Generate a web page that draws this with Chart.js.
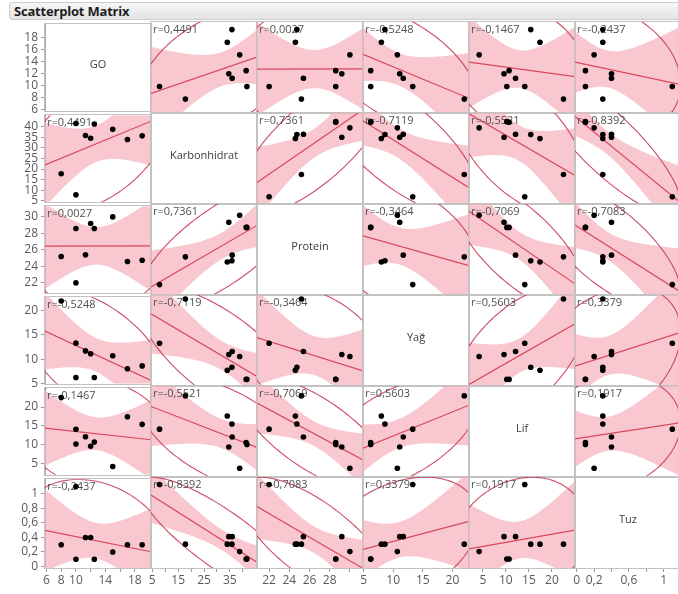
<!DOCTYPE html>
<html>
<head>
<meta charset="utf-8">
<title>Scatterplot Matrix</title>
<script src="https://cdn.jsdelivr.net/npm/chart.js@4"></script>
<style>
  body { margin: 0; background: #fff; font-family: "Open Sans", "Noto Sans", sans-serif; }
  #wrap { position: relative; width: 678px; height: 594px; overflow: hidden; }
  #bar {
    position: absolute; left: 9px; top: 2px; width: 680px; height: 18px;
    box-sizing: border-box; border: 1px solid #cdcdcd; border-radius: 3px 0 0 3px;
    background: linear-gradient(#f7f7f7, #e3e3e3);
  }
  #bar span {
    position: absolute; left: 4px; top: -1px;
    font-weight: bold; font-size: 13px; color: #1e1e1e; letter-spacing: -0.2px;
  }
  canvas { position: absolute; }
</style>
</head>
<body>
<div id="wrap">
  <div id="bar"><span>Scatterplot Matrix</span></div>
</div>
<script>
// variables, one value per sample
const varNames = ['GO', 'Karbonhidrat', 'Protein', 'Yağ', 'Lif', 'Tuz'];
const go           = [10,   8,    10,   11.3, 12,   12.5, 15,   17,   19];
const karbonhidrat = [7.8,  17.8, 41.6, 35.9, 34.6, 41.3, 38.8, 34.0, 35.8];
const protein      = [22.0, 25.2, 28.6, 25.4, 29.2, 28.6, 30.0, 24.6, 24.75];
const yag          = [13.3, 22.0, 6.2,  11.7, 11.1, 6.2,  10.7, 8.0,  8.6];
const lif          = [14.1, 22.5, 10.2, 12.1, 9.6,  10.7, 4.2,  17.4, 15.4];
const tuz          = [1.1,  0.3,  0.1,  0.4,  0.4,  0.1,  0.2,  0.3,  0.3];
const columns = [go, karbonhidrat, protein, yag, lif, tuz];

// pairwise r shown in each cell
const correlations = [
  [1,       0.4491,  0.0027, -0.5248, -0.1467, -0.2437],
  [0.4491,  1,       0.7361, -0.7119, -0.5521, -0.8392],
  [0.0027,  0.7361,  1,      -0.3464, -0.7069, -0.7083],
  [-0.5248, -0.7119, -0.3464, 1,       0.5603,  0.3379],
  [-0.1467, -0.5521, -0.7069, 0.5603,  1,       0.1917],
  [-0.2437, -0.8392, -0.7083, 0.3379,  0.1917,  1]
];

// axis ranges and ticks per variable
const axisRanges = [[5.8, 20.2], [4.5, 45.5], [20.8, 31.3], [4.9, 22.8], [2, 25], [-0.02, 1.2]];
const tickValues = [
  [6, 8, 10, 12, 14, 16, 18],
  [5, 10, 15, 20, 25, 30, 35, 40],
  [22, 24, 26, 28, 30],
  [5, 10, 15, 20],
  [5, 10, 15, 20],
  [0, 0.2, 0.4, 0.6, 0.8, 1]
];
const xTickLabels = [
  [6, 8, 10, 14, 18],
  [5, 15, 25, 35],
  [22, 24, 26, 28],
  [5, 10, 15, 20],
  [5, 10, 15, 20],
  [0, 0.2, 0.6, 1]
];

const GRID_X = 45, GRID_Y = 22, CELL_W = 106, CELL_H = 91;
const AXIS_W = 45, AXIS_H = 26, PAD = 8;
const N = go.length;
const T_975 = 2.3646;       // t quantile, 7 df
const ELLIPSE_K = 2.8;      // density ellipse radius in sd units
const BAND_PINK = 'rgba(247, 178, 188, 0.72)';
const LINE_RED = '#d9475c';
const ELLIPSE_RED = 'rgba(198, 58, 84, 0.9)';

function fmt(v) { return String(v).replace('.', ','); }
function mean(a) { return a.reduce((s, v) => s + v, 0) / a.length; }
function sd(a) {
  const m = mean(a);
  return Math.sqrt(a.reduce((s, v) => s + (v - m) * (v - m), 0) / (a.length - 1));
}

// fit line, shaded confidence band and density ellipse for y on x
function fitData(xs, ys, r, xr) {
  const mx = mean(xs), my = mean(ys), sx = sd(xs), sy = sd(ys);
  const b = r * sy / sx, a = my - b * mx;
  const se = sy * Math.sqrt((1 - r * r) * (N - 1) / (N - 2));
  const sxx = (N - 1) * sx * sx;
  const line = [{ x: xr[0], y: a + b * xr[0] }, { x: xr[1], y: a + b * xr[1] }];
  const lo = [], hi = [];
  for (let s = 0; s <= 60; s++) {
    const x = xr[0] + (xr[1] - xr[0]) * s / 60;
    const h = T_975 * se * Math.sqrt(1 / N + (x - mx) * (x - mx) / sxx);
    lo.push({ x: x, y: a + b * x - h });
    hi.push({ x: x, y: a + b * x + h });
  }
  const ell = [];
  const q = Math.sqrt(1 - r * r);
  for (let s = 0; s <= 144; s++) {
    const t = 2 * Math.PI * s / 144;
    ell.push({
      x: mx + ELLIPSE_K * sx * Math.cos(t),
      y: my + ELLIPSE_K * sy * (r * Math.cos(t) + q * Math.sin(t))
    });
  }
  return { line: line, lo: lo, hi: hi, ell: ell };
}

const cellPlugin = {
  id: 'cellDecor',
  afterDatasetDraw(chart, args, opts) {
    // r label sits under the points
    if (opts.diag || args.index !== 1) return;
    const ca = chart.chartArea, ctx = chart.ctx;
    ctx.save();
    ctx.font = '11px "Open Sans", "Noto Sans", sans-serif';
    ctx.fillStyle = '#505050';
    ctx.textBaseline = 'top';
    ctx.fillText('r=' + opts.r.toFixed(4).replace('.', ','), ca.left + 2, ca.top + 2);
    ctx.restore();
  },
  afterDraw(chart, args, opts) {
    const ca = chart.chartArea, ctx = chart.ctx;
    ctx.save();
    if (opts.diag) {
      ctx.font = '11px "Open Sans", "Noto Sans", sans-serif';
      ctx.fillStyle = '#3c3c3c';
      ctx.textAlign = 'center';
      ctx.textBaseline = 'middle';
      ctx.fillText(opts.name, (ca.left + ca.right) / 2, (ca.top + ca.bottom) / 2 - 3);
    }
    ctx.strokeStyle = '#c2c2c2';
    ctx.lineWidth = 1;
    ctx.strokeRect(Math.round(ca.left) - 0.5, Math.round(ca.top) - 0.5,
      Math.round(ca.right - ca.left) + 1, Math.round(ca.bottom - ca.top) + 1);
    ctx.restore();
  }
};

function axisOptions(v, show, isX) {
  const opts = {
    type: 'linear',
    min: axisRanges[v][0],
    max: axisRanges[v][1],
    display: show,
    afterBuildTicks: function (s) { s.ticks = tickValues[v].map(t => ({ value: t })); },
    ticks: {
      autoSkip: false,
      maxRotation: 0,
      padding: isX ? 1 : 3,
      color: '#5a5a5a',
      font: { size: 12, family: '"Open Sans", "Noto Sans", sans-serif' },
      callback: function (val) {
        if (isX && !xTickLabels[v].includes(val)) return '';
        return fmt(val);
      }
    },
    grid: { drawOnChartArea: false, tickLength: 4, color: '#9a9a9a' },
    border: { color: '#a8a8a8' }
  };
  if (show) {
    opts.afterFit = function (s) { if (isX) s.height = AXIS_H; else s.width = AXIS_W; };
  }
  return opts;
}

const wrap = document.getElementById('wrap');

for (let i = 0; i < 6; i++) {
  for (let j = 0; j < 6; j++) {
    const hasY = j === 0, hasX = i === 5;
    const axW = hasY ? AXIS_W : 0, axH = hasX ? AXIS_H : 0;
    const canvas = document.createElement('canvas');
    canvas.width = CELL_W + 2 * PAD + axW;
    canvas.height = CELL_H + 2 * PAD + axH;
    canvas.style.left = (GRID_X + j * CELL_W - PAD - axW) + 'px';
    canvas.style.top = (GRID_Y + i * CELL_H - PAD) + 'px';
    wrap.appendChild(canvas);

    const diag = i === j;
    let datasets = [];
    if (!diag) {
      const xs = columns[j], ys = columns[i];
      const r = correlations[i][j];
      const f = fitData(xs, ys, r, axisRanges[j]);
      datasets = [
        { data: xs.map((x, k) => ({ x: x, y: ys[k] })), showLine: false,
          pointRadius: 2.8, pointBackgroundColor: '#000', pointBorderWidth: 0, order: 0 },
        { data: f.line, showLine: true, borderColor: LINE_RED, borderWidth: 1.2,
          pointRadius: 0, order: 1, clip: 0 },
        { data: f.ell, showLine: true, borderColor: ELLIPSE_RED, borderWidth: 1.1,
          pointRadius: 0, order: 2, clip: 0 },
        { data: f.lo, showLine: true, borderColor: 'rgba(0,0,0,0)', borderWidth: 1,
          pointRadius: 0, order: 3, clip: 0 },
        { data: f.hi, showLine: true, borderColor: 'rgba(0,0,0,0)', borderWidth: 1,
          pointRadius: 0, order: 4, fill: '-1', backgroundColor: BAND_PINK, clip: 0 }
      ];
    }

    new Chart(canvas, {
      type: 'scatter',
      data: { datasets: datasets },
      options: {
        responsive: false,
        animation: false,
        events: [],
        layout: { padding: PAD },
        elements: { line: { tension: 0 } },
        scales: {
          x: axisOptions(j, hasX, true),
          y: axisOptions(i, hasY, false)
        },
        plugins: {
          legend: { display: false },
          tooltip: { enabled: false },
          cellDecor: { diag: diag, name: varNames[i], r: correlations[i][j] }
        }
      },
      plugins: [cellPlugin]
    });
  }
}
</script>
</body>
</html>
